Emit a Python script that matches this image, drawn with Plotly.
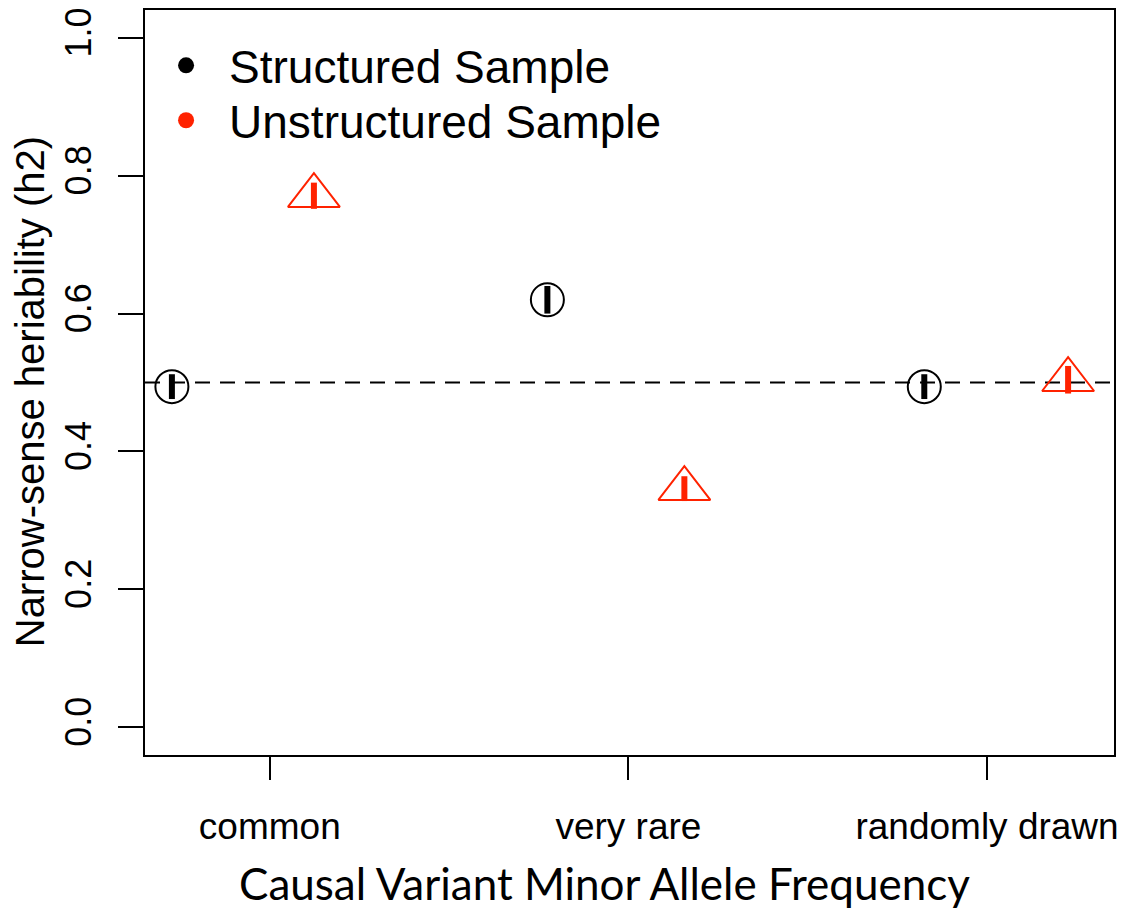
import plotly.graph_objects as go

# Data
categories = ["common", "very rare", "randomly drawn"]
tick_positions = [1, 2, 3]

structured_x = [0.727, 1.774, 2.825]
structured_h2 = [0.494, 0.620, 0.494]
structured_err = [0.018, 0.020, 0.018]

unstructured_x = [1.123, 2.156, 3.226]
unstructured_h2 = [0.771, 0.346, 0.504]
unstructured_err = [0.019, 0.018, 0.020]

true_h2 = 0.5

RED = "#FF2200"
AXFONT = "Liberation Sans, Arial, sans-serif"

fig = go.Figure()

# legend-only entries (filled dots)
fig.add_trace(go.Scatter(x=[None], y=[None], mode="markers", name="Structured Sample",
                         legend="legend",
                         marker=dict(symbol="circle", size=16, color="black")))
fig.add_trace(go.Scatter(x=[None], y=[None], mode="markers", name="Unstructured Sample",
                         legend="legend2",
                         marker=dict(symbol="circle", size=16, color=RED)))

fig.add_trace(go.Scatter(
    x=structured_x, y=structured_h2, mode="markers", showlegend=False,
    marker=dict(symbol="circle-open", size=33, color="black", line=dict(width=2, color="black")),
    error_y=dict(type="data", array=structured_err, color="black", thickness=6, width=0),
))
fig.add_trace(go.Scatter(
    x=unstructured_x, y=unstructured_h2, mode="markers", showlegend=False,
    marker=dict(symbol="triangle-up-open", size=45, color=RED, line=dict(width=2, color=RED)),
    error_y=dict(type="data", array=unstructured_err, color=RED, thickness=6, width=0),
))

fig.add_shape(type="line", xref="paper", x0=0, x1=1, yref="y", y0=true_h2, y1=true_h2,
              line=dict(color="black", width=2, dash="15px,10px"), layer="below")

legend_common = dict(xanchor="left", yanchor="top",
                     font=dict(family=AXFONT, size=46, color="black"),
                     bgcolor="rgba(0,0,0,0)", itemwidth=76, tracegroupgap=0)

fig.update_layout(
    width=1127, height=913,
    margin=dict(l=145, r=12, t=8, b=158),
    paper_bgcolor="white", plot_bgcolor="white",
    showlegend=True,
    legend=dict(x=-0.002, y=0.9746, **legend_common),
    legend2=dict(x=-0.002, y=0.9009, **legend_common),
    xaxis=dict(range=[0.652, 3.354], tickmode="array", tickvals=tick_positions, ticktext=categories,
               showline=True, mirror=True, linecolor="black", linewidth=2,
               ticks="outside", ticklen=23, tickwidth=2, tickcolor="black",
               ticklabelstandoff=15,
               tickfont=dict(family=AXFONT, size=37, color="black"),
               showgrid=False, zeroline=False),
    yaxis=dict(range=[-0.0405, 1.0405], tickmode="array", tickvals=[0, 0.2, 0.4, 0.6, 0.8, 1.0],
               ticktext=["0.0", "0.2", "0.4", "0.6", "0.8", "1.0"], tickangle=-90,
               showline=True, mirror=True, linecolor="black", linewidth=2,
               ticks="outside", ticklen=25, tickwidth=2, tickcolor="black",
               ticklabelstandoff=13,
               tickfont=dict(family=AXFONT, size=36, color="black"),
               showgrid=False, zeroline=False),
    annotations=[
        dict(text="Narrow-sense heriability (h2)", xref="paper", yref="paper",
             x=-0.1186, y=0.487, xanchor="center", yanchor="middle", textangle=-90,
             showarrow=False, font=dict(family=AXFONT, size=40, color="black")),
        dict(text="Causal Variant Minor Allele Frequency", xref="paper", yref="paper",
             x=0.474, y=-0.172, xanchor="center", yanchor="middle",
             showarrow=False, font=dict(family="Lato, Open Sans, sans-serif", size=44, color="black")),
    ],
)

fig.write_html("out.html")
